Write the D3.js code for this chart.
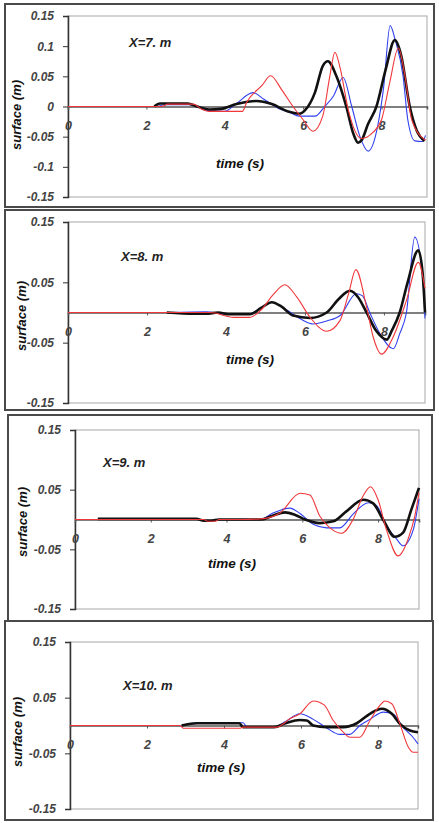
<!DOCTYPE html>
<html>
<head>
<meta charset="utf-8">
<script src="https://cdnjs.cloudflare.com/ajax/libs/d3/7.8.5/d3.min.js"></script>
<style>
  body { margin: 0; background: #fff; }
  svg { display: block; }
</style>
</head>
<body>
<svg id="chart" width="439" height="823"></svg>
<script>
// ---- data: [time (s), surface (m)] ----
const titles = ["X=7. m", "X=8. m", "X=9. m", "X=10. m"];
const xTicks = [0, 2, 4, 6, 8];
const yTicksFirst = [0.15, 0.1, 0.05, 0, -0.05, -0.1, -0.15];
const yTicksOther = [0.15, 0.05, -0.05, -0.15];
const xMaxes = [9.16, 9.04, 9.08, 9.04];

const p1Black = [[2.2,0],[2.35,0.005],[3.05,0.005],[3.3,0],[3.6,-0.005],[3.9,-0.004],[4.3,0.004],[4.8,0.009],[5.2,0.004],[5.6,-0.008],[5.9,-0.012],[6.05,-0.006],[6.3,0.023],[6.5,0.067],[6.63,0.075],[6.85,0.05],[7.1,0],[7.28,-0.045],[7.4,-0.06],[7.5,-0.055],[7.65,-0.03],[7.87,0],[8.1,0.06],[8.34,0.11],[8.5,0.085],[8.72,0],[8.9,-0.04],[9.1,-0.057]];
const p1Blue = [[2.3,0],[2.45,0.003],[3.1,0.003],[3.3,0],[3.5,-0.006],[4.0,-0.008],[4.3,0.005],[4.72,0.023],[5.0,0.012],[5.4,-0.004],[5.66,-0.01],[5.9,-0.016],[6.3,-0.016],[6.55,0],[6.77,0.017],[7.02,0.048],[7.24,0],[7.45,-0.05],[7.66,-0.074],[7.9,-0.033],[8.05,0.03],[8.22,0.134],[8.35,0.11],[8.55,0.05],[8.67,-0.022],[8.85,-0.057],[9.05,-0.058],[9.12,-0.048]];
const p1Red = [[0,0],[2.4,0],[2.55,0.004],[3.2,0.004],[3.4,-0.004],[3.6,-0.008],[4.45,-0.008],[4.56,0.007],[4.95,0.035],[5.17,0.051],[5.45,0.028],[5.74,0],[6.0,-0.022],[6.25,-0.041],[6.5,-0.016],[6.68,0.05],[6.81,0.09],[6.94,0.065],[7.15,-0.005],[7.49,-0.053],[7.78,-0.043],[8.0,-0.022],[8.21,0.04],[8.43,0.097],[8.6,0.05],[8.77,-0.022],[9.12,-0.056]];

const p2Black = [[2.5,0],[3.2,-0.002],[3.5,-0.002],[3.8,0],[4.1,-0.003],[4.6,-0.003],[4.9,0.008],[5.16,0.017],[5.4,0.01],[5.7,-0.005],[6.13,-0.009],[6.55,0],[6.85,0.022],[7.14,0.036],[7.35,0.025],[7.56,0],[7.8,-0.03],[8.07,-0.045],[8.2,-0.03],[8.4,0],[8.6,0.05],[8.87,0.103],[8.98,0.065],[9.04,0]];
const p2Blue = [[2.6,0],[3.5,0.001],[4.0,-0.003],[4.6,-0.002],[4.9,0.008],[5.16,0.017],[5.5,0.006],[5.87,-0.01],[6.2,-0.019],[6.55,-0.014],[6.89,-0.005],[7.3,0.031],[7.45,0.028],[7.64,0],[7.9,-0.035],[8.24,-0.06],[8.4,-0.035],[8.57,0],[8.78,0.125],[8.98,0.06],[9.04,-0.01]];
const p2Red = [[0,0],[3.6,0],[4.2,-0.008],[4.6,-0.008],[4.9,0.005],[5.2,0.03],[5.49,0.046],[5.8,0.025],[6.13,-0.008],[6.55,-0.031],[6.89,-0.013],[7.1,0.03],[7.29,0.071],[7.56,0.009],[7.73,-0.041],[7.94,-0.069],[8.23,-0.041],[8.57,0.02],[8.87,0.083],[9.04,0.04]];

const p3Black = [[0.6,0.001],[3.2,0.001],[3.4,-0.002],[3.6,-0.002],[3.8,0],[4.9,0],[5.2,0.006],[5.54,0.012],[5.8,0.008],[6.07,0],[6.46,-0.006],[6.82,-0.003],[7.17,0.014],[7.61,0.033],[7.87,0.027],[8.13,0],[8.44,-0.029],[8.66,-0.022],[8.88,0.017],[9.08,0.053]];
const p3Blue = [[4.3,0],[4.9,0],[5.2,0.01],[5.67,0.019],[5.94,0.01],[6.29,-0.008],[6.64,-0.014],[6.99,-0.014],[7.34,0.009],[7.74,0.028],[7.95,0.024],[8.22,-0.01],[8.49,-0.033],[8.66,-0.044],[8.93,-0.017],[9.08,0.035]];
const p3Red = [[0,0],[3.4,0],[3.5,-0.003],[3.7,-0.003],[3.8,0],[4.4,0],[4.9,0.001],[5.41,0.011],[5.94,0.044],[6.2,0.041],[6.46,0.006],[6.73,-0.014],[7.04,-0.023],[7.34,0],[7.6,0.039],[7.8,0.055],[8.0,0.033],[8.22,-0.017],[8.53,-0.061],[8.79,-0.033],[8.97,0.006],[9.08,0.045]];

const p4Black = [[2.9,0],[3.3,0.004],[4.4,0.004],[4.5,-0.003],[5.3,-0.003],[5.6,0.004],[5.97,0.01],[6.15,0.009],[6.32,0],[6.66,-0.003],[7.1,-0.003],[7.45,0.004],[7.79,0.021],[8.1,0.03],[8.36,0.021],[8.57,0.003],[8.83,-0.009],[9.04,-0.012]];
const p4Blue = [[2.9,0],[3.3,0.005],[4.5,0.005],[4.6,-0.003],[5.3,-0.003],[5.6,0.007],[5.97,0.021],[6.32,0.011],[6.66,-0.004],[7.01,-0.016],[7.27,-0.016],[7.53,0],[7.79,0.011],[8.14,0.024],[8.4,0.02],[8.66,-0.004],[8.92,-0.022],[9.04,-0.033]];
const p4Red = [[0,0],[2.85,0],[2.95,-0.005],[4.4,-0.005],[4.5,-0.003],[5.37,-0.003],[5.71,0.012],[5.97,0.021],[6.32,0.044],[6.6,0.037],[6.84,0.009],[7.1,-0.012],[7.27,-0.021],[7.53,-0.021],[7.79,0.009],[8.05,0.036],[8.18,0.044],[8.36,0.039],[8.57,0.003],[8.79,-0.039],[8.92,-0.048],[9.04,-0.048]];

const seriesColors = { blue: "#2f3ff0", black: "#111111", red: "#f0373a" };
const panelSeries = [
  { blue: p1Blue, black: p1Black, red: p1Red },
  { blue: p2Blue, black: p2Black, red: p2Red },
  { blue: p3Blue, black: p3Black, red: p3Red },
  { blue: p4Blue, black: p4Black, red: p4Red }
];

// ---- layout of the four stacked boxes ----
const layout = [
  { frame: [5, 4, 429, 203],   plot: [68, 16, 359, 181],  title: [129, 47],  ylab: [16, 115], xlab: [240, 168] },
  { frame: [5, 210, 429, 200], plot: [68, 222, 357, 181], title: [121, 261], ylab: [21, 316], xlab: [250, 364] },
  { frame: [8, 415, 424, 206], plot: [75, 430, 344, 179], title: [103, 467], ylab: [22, 522], xlab: [232, 568] },
  { frame: [5, 621, 428, 199], plot: [70, 642, 348, 167], title: [123, 690], ylab: [17, 732], xlab: [221, 772] }
];

const svg = d3.select("#chart");
const font = "'Liberation Sans', Arial, sans-serif";

layout.forEach(function(L, i) {
  const g = svg.append("g").attr("class", "panel-" + i);
  const [px, py, pw, ph] = L.plot;

  const x = d3.scaleLinear().domain([0, xMaxes[i]]).range([px, px + pw]);
  const y = d3.scaleLinear().domain([-0.15, 0.15]).range([py + ph, py]);

  // outer box
  g.append("rect")
    .attr("x", L.frame[0]).attr("y", L.frame[1])
    .attr("width", L.frame[2]).attr("height", L.frame[3])
    .attr("fill", "none").attr("stroke", "#4a4a4a").attr("stroke-width", 2);

  // plot area border
  g.append("rect")
    .attr("x", px).attr("y", py).attr("width", pw).attr("height", ph)
    .attr("fill", "none").attr("stroke", "#a8a8a8").attr("stroke-width", 1);

  // y axis
  const yTicks = i === 0 ? yTicksFirst : yTicksOther;
  const yAxis = g.append("g")
    .attr("transform", "translate(" + px + ",0)")
    .call(d3.axisLeft(y).tickValues(yTicks).tickSize(5).tickPadding(9).tickFormat(d => String(d)));
  yAxis.select(".domain").attr("stroke", "#333").attr("stroke-width", 1.5);
  yAxis.selectAll(".tick line").attr("stroke", "#333");
  yAxis.selectAll("text")
    .attr("fill", "#444").style("font-family", font).style("font-style", "italic")
    .style("font-weight", "bold").style("font-size", "12px");

  // x axis sitting on the zero line
  const xAxis = g.append("g")
    .attr("transform", "translate(0," + y(0) + ")")
    .call(d3.axisBottom(x).tickValues(xTicks).tickSize(3).tickPadding(12).tickFormat(d3.format("d")));
  xAxis.select(".domain").attr("stroke", "#555").attr("stroke-width", 1.5);
  xAxis.selectAll(".tick line").attr("stroke", "#555");
  xAxis.selectAll("text")
    .attr("fill", "#444").style("font-family", font).style("font-style", "italic")
    .style("font-weight", "bold").style("font-size", "12.5px");

  // curves
  const line = d3.line()
    .x(d => x(d[0]))
    .y(d => y(d[1]))
    .curve(d3.curveMonotoneX);

  ["blue", "black", "red"].forEach(function(key) {
    g.append("path")
      .datum(panelSeries[i][key])
      .attr("d", line)
      .attr("fill", "none")
      .attr("stroke", seriesColors[key])
      .attr("stroke-width", key === "black" ? 2.6 : 1.1)
      .attr("stroke-linejoin", "round");
  });

  // texts
  g.append("text")
    .attr("x", L.title[0]).attr("y", L.title[1])
    .style("font-family", font).style("font-style", "italic").style("font-weight", "bold")
    .style("font-size", "13px").attr("fill", "#222")
    .text(titles[i]);

  g.append("text")
    .attr("transform", "translate(" + (L.ylab[0] + 5) + "," + L.ylab[1] + ") rotate(-90)")
    .attr("text-anchor", "middle")
    .style("font-family", font).style("font-style", "italic").style("font-weight", "bold")
    .style("font-size", "13px").attr("fill", "#111")
    .text("surface (m)");

  g.append("text")
    .attr("x", L.xlab[0]).attr("y", L.xlab[1])
    .attr("text-anchor", "middle")
    .style("font-family", font).style("font-style", "italic").style("font-weight", "bold")
    .style("font-size", "13.5px").attr("fill", "#111")
    .text("time (s)");
});
</script>
</body>
</html>
